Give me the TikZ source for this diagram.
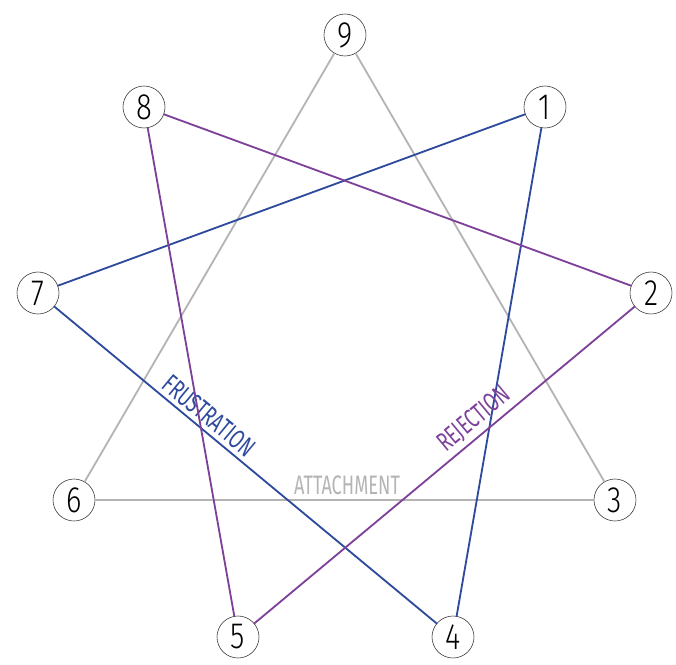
\documentclass[tikz,border=0pt]{standalone}
\usepackage{fontspec}
\usepackage{xcolor}
\usepackage{tikz}
\usetikzlibrary{arrows.meta, positioning}
\newfontfamily\labelfont[FakeStretch=0.68]{Fira Sans}
\newfontfamily\digitfont[FakeStretch=0.8]{Fira Sans Light}
\definecolor{enblue}{HTML}{2D4A9C}
\definecolor{enpurple}{HTML}{7E4199}
\definecolor{engray}{HTML}{B4B4B4}
\tikzset{
  numnode/.style={circle,draw=black!80,thin,minimum size=1.05cm,inner sep=0pt,font=\digitfont\fontsize{26}{28}\selectfont},
  triedge/.style={line width=1.3pt,line cap=round},
  grayedge/.style={triedge,engray},
  blueedge/.style={triedge,enblue},
  purpleedge/.style={triedge,enpurple},
  edgelabel/.style={sloped,above,inner sep=3pt,font=\labelfont\fontsize{19}{21}\selectfont},
}

\begin{document}
\begin{tikzpicture}[x=0.025cm,y=-0.025cm]
  \useasboundingbox (0,0) rectangle (676,664);
  \node[numnode] (n9) at (345,35) {9};
  \node[numnode] (n8) at (144,107) {8};
  \node[numnode] (n1) at (545,107) {1};
  \node[numnode] (n7) at (38,293) {7};
  \node[numnode] (n2) at (651,293) {2};
  \node[numnode] (n6) at (74,500) {6};
  \node[numnode] (n3) at (615,500) {3};
  \node[numnode] (n5) at (238,637) {5};
  \node[numnode] (n4) at (453,637) {4};
  % attachment triangle
  \draw[grayedge] (n9) -- (n3);
  \draw[grayedge] (n9) -- (n6);
  \draw[grayedge] (n6) -- node[edgelabel,pos=0.505,text=engray] {ATTACHMENT} (n3);
  % frustration triangle
  \draw[blueedge] (n1) -- (n4);
  \draw[blueedge] (n1) -- (n7);
  \draw[blueedge] (n7) -- node[edgelabel,pos=0.38,text=enblue] {FRUSTRATION} (n4);
  % rejection triangle
  \draw[purpleedge] (n8) -- (n2);
  \draw[purpleedge] (n8) -- (n5);
  \draw[purpleedge] (n5) -- node[edgelabel,pos=0.605,text=enpurple] {REJECTION} (n2);
\end{tikzpicture}
\end{document}
